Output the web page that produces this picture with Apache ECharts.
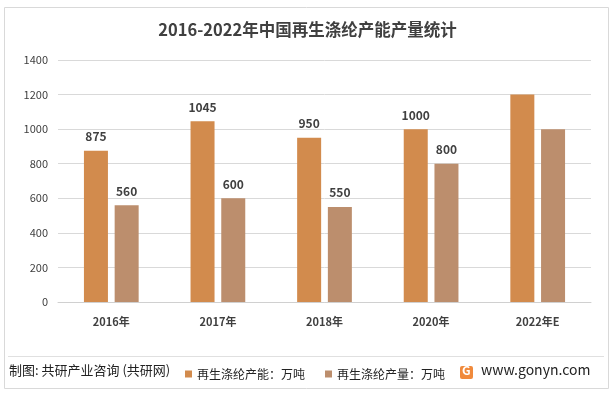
<!DOCTYPE html>
<html><head><meta charset="utf-8">
<script src="https://cdn.jsdelivr.net/npm/echarts@6/dist/echarts.min.js"></script>
<style>html,body{margin:0;padding:0;background:#fff}#c{width:615px;height:393px}</style>
</head><body><div id="c"></div>
<script>
const categories = ['2016年','2017年','2018年','2020年','2022年E'];
const capacity = [875, 1045, 950, 1000, 1200];
const output = [560, 600, 550, 800, 1000];
const capacityLabels = [true, true, true, true, false];
const outputLabels = [true, true, true, true, false];
const yTicks = [0, 200, 400, 600, 800, 1000, 1200, 1400];

const font = '"Noto Sans CJK SC", "Noto Sans", sans-serif';
const chart = echarts.init(document.getElementById('c'));
function mk(vals, flags){
  return vals.map((v,i)=>({value:v, label:{show:flags[i]}}));
}
chart.setOption({
  animation:false,
  textStyle:{fontFamily:font},
  title:{text:'2016-2022年中国再生涤纶产能产量统计', left:'center', top:16,
    textStyle:{fontSize:16.5, fontWeight:'bold', color:'#404040', fontFamily:font}},
  grid:{left:58, right:24, top:60, bottom:91},
  legend:{left:180, top:363, itemWidth:7, itemHeight:7, itemGap:20, icon:'rect',
    textStyle:{fontSize:12, color:'#222', fontFamily:font},
    data:['再生涤纶产能：万吨','再生涤纶产量：万吨']},
  xAxis:{type:'category', data:categories,
    axisLine:{lineStyle:{color:'#d0d0d0'}}, axisTick:{show:false},
    axisLabel:{fontSize:11, fontWeight:'bold', color:'#404040', margin:14}},
  yAxis:{type:'value', min:0, max:1400, interval:200,
    axisLabel:{fontSize:11, color:'#404040', margin:10, formatter:v=>String(v)},
    splitLine:{lineStyle:{color:'#d9d9d9'}}, axisLine:{show:false}},
  series:[
    {name:'再生涤纶产能：万吨', type:'bar', data:mk(capacity,capacityLabels), barWidth:24, barGap:'28%',
     itemStyle:{color:'#D28B4D'},
     label:{position:'top', distance:8, fontSize:12, fontWeight:'bold', color:'#404040'}},
    {name:'再生涤纶产量：万吨', type:'bar', data:mk(output,outputLabels), barWidth:24,
     itemStyle:{color:'#BC8E6D'},
     label:{position:'top', distance:8, fontSize:12, fontWeight:'bold', color:'#404040'}}
  ],
  graphic:[
    {type:'rect', shape:{x:4.5, y:7.5, width:604, height:381}, style:{fill:'none', stroke:'#d9d9d9', lineWidth:1}, silent:true},
    {type:'line', shape:{x1:8, y1:356.5, x2:604, y2:356.5}, style:{stroke:'#e0e0e0', lineWidth:1}},
    {type:'text', left:9, top:364, style:{text:'制图: 共研产业咨询 (共研网)', font:'13px '+font, fill:'#222'}},
    {type:'rect', shape:{x:460, y:366, width:13, height:13, r:2}, style:{fill:'#F08A3C'}},
    {type:'text', left:462, top:364, style:{text:'G', font:'bold 12px '+font, fill:'#fff'}},
    {type:'text', left:481, top:363, style:{text:'www.gonyn.com', font:'14px '+font, fill:'#222'}}
  ]
});
</script></body></html>
